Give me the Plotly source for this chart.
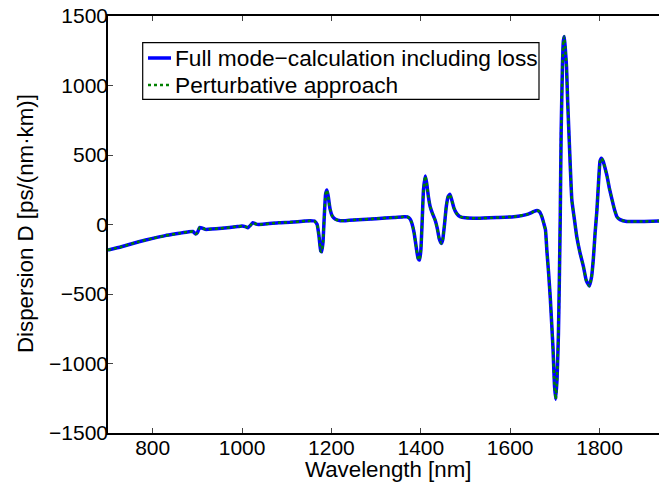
import plotly.graph_objects as go

# Wavelength [nm]
wavelength = [700, 730, 769, 800, 828, 860, 881, 890, 896, 900, 905, 910, 918, 955, 990, 1000,
              1007, 1013, 1019, 1024, 1030, 1037, 1082, 1107, 1142, 1153, 1162, 1168, 1172, 1176,
              1178, 1181, 1184, 1187, 1190, 1193, 1197, 1202, 1209, 1220, 1260, 1300, 1340, 1362,
              1370, 1376, 1380, 1385, 1390, 1394, 1397, 1400, 1403, 1406, 1410, 1413, 1417, 1421,
              1426, 1432, 1437, 1441, 1446, 1449, 1453, 1457, 1461, 1465, 1469, 1474, 1480, 1488,
              1500, 1526, 1570, 1608, 1640, 1652, 1660, 1666, 1671, 1675, 1679, 1682, 1686, 1690,
              1693, 1696, 1699, 1702, 1705, 1708, 1710, 1712, 1714, 1717, 1719, 1721, 1723, 1726,
              1728.5, 1733, 1738, 1744, 1749, 1756, 1764, 1770, 1777, 1782, 1786, 1790, 1794, 1798,
              1801, 1804, 1808, 1812, 1817, 1822, 1828, 1834, 1839, 1846, 1861, 1900, 1933]

# Dispersion D [ps/(nm km)] - full mode calculation including loss
d_full = [-184, -160, -124, -100, -80, -63, -52, -50, -68, -58, -22, -25, -35, -27, -15, -11,
          -15, -23, -5, 13, 5, 0, 13, 16, 25, 27, 25, 0, -80, -190,
          -196, -130, 60, 220, 248, 200, 110, 60, 37, 27, 35, 42, 50, 56,
          55, 40, 9, -60, -170, -245, -256, -190, 20, 250, 349, 300, 200, 128,
          80, 32, -30, -100, -136, -110, 0, 130, 200, 217, 180, 120, 80, 56,
          48, 45, 50, 56, 75, 92, 100, 90, 55, 10, -40, -184, -350, -544,
          -720, -904, -1150, -1257, -1100, -782, -400, 50, 658, 1150, 1320, 1353, 1280, 1137,
          897, 537, 176, 30, -88, -200, -304, -400, -443, -380, -250, -61, 100, 320,
          455, 477, 455, 410, 344, 260, 177, 100, 55, 35, 22, 22, 25]

# Perturbative approach (coincides with the full calculation at this scale)
d_pert = list(d_full)

series_names = ["Full mode\u2212calculation including loss", "Perturbative approach"]

x_ticks = [800, 1000, 1200, 1400, 1600, 1800]
y_ticks = [-1500, -1000, -500, 0, 500, 1000, 1500]

FONT = "Liberation Sans, Arial, Helvetica, sans-serif"
FS_TICK = 21
FS_TEXT = 22.3
FS_LEG = 22.7

W, H = 659, 483
L, R, T, B = 108, 0, 16, 50
pw = W - L - R
ph = H - T - B


def px_x(px):  # page px -> paper x
    return (px - L) / pw


def px_y(py):  # page px -> paper y
    return 1 - (py - T) / ph


BLUE = "rgb(0,0,255)"
GREEN = "rgb(0,128,0)"

fig = go.Figure()
fig.add_trace(go.Scatter(x=wavelength, y=d_full, mode="lines", name=series_names[0],
                         line=dict(color=BLUE, width=3.5, shape="spline", smoothing=0.4)))
fig.add_trace(go.Scatter(x=wavelength, y=d_pert, mode="lines", name=series_names[1],
                         line=dict(color=GREEN, width=2.5, dash="dot",
                                   shape="spline", smoothing=0.4)))

# legend box drawn MATLAB-style
leg_rows = [58, 85]
shapes = [dict(type="rect", xref="paper", yref="paper",
               x0=px_x(142.7), x1=px_x(539), y0=px_y(99.3), y1=px_y(42.7),
               line=dict(color="black", width=1.2), fillcolor="white", layer="above")]
shapes.append(dict(type="line", xref="paper", yref="paper",
                   x0=px_x(148), x1=px_x(171), y0=px_y(leg_rows[0]), y1=px_y(leg_rows[0]),
                   line=dict(color=BLUE, width=3.5), layer="above"))
shapes.append(dict(type="line", xref="paper", yref="paper",
                   x0=px_x(148), x1=px_x(171), y0=px_y(leg_rows[1]), y1=px_y(leg_rows[1]),
                   line=dict(color=GREEN, width=2.5, dash="dot"), layer="above"))

annotations = [
    dict(text="Wavelength [nm]", xref="paper", yref="paper",
         x=px_x(388), y=px_y(470), xanchor="center", yanchor="middle",
         showarrow=False, font=dict(family=FONT, size=FS_TEXT)),
    dict(text="Dispersion D [ps/(nm\u00b7km)]", xref="paper", yref="paper",
         x=px_x(25), y=px_y(224), xanchor="center", yanchor="middle", textangle=-90,
         showarrow=False, font=dict(family=FONT, size=FS_TEXT)),
]
for name, row in zip(series_names, leg_rows):
    annotations.append(dict(text=name, xref="paper", yref="paper",
                            x=px_x(173), y=px_y(row), xanchor="left", yanchor="middle",
                            showarrow=False, font=dict(family=FONT, size=FS_LEG)))

fig.update_layout(
    width=W, height=H,
    margin=dict(l=L, r=R, t=T, b=B, autoexpand=False),
    paper_bgcolor="white", plot_bgcolor="white",
    font=dict(family=FONT, size=FS_TICK, color="black"),
    showlegend=False,
    xaxis=dict(range=[700, 1933], tickvals=x_ticks, ticks="inside", ticklen=5,
               showline=True, linecolor="black", linewidth=1.5, mirror="ticks",
               showgrid=False, zeroline=False, automargin=False,
               ticklabelstandoff=-5, ticklabeloverflow="allow",
               tickfont=dict(family=FONT, size=FS_TICK)),
    yaxis=dict(range=[-1500, 1500], tickvals=y_ticks, ticks="inside", ticklen=5,
               showline=True, linecolor="black", linewidth=1.5,
               showgrid=False, zeroline=False, automargin=False,
               ticklabelstandoff=-6, ticklabeloverflow="allow",
               tickfont=dict(family=FONT, size=FS_TICK)),
    shapes=shapes,
    annotations=annotations,
)

fig.write_html("out.html", config={"displayModeBar": False},
               post_script="document.body.style.margin='0px';")
